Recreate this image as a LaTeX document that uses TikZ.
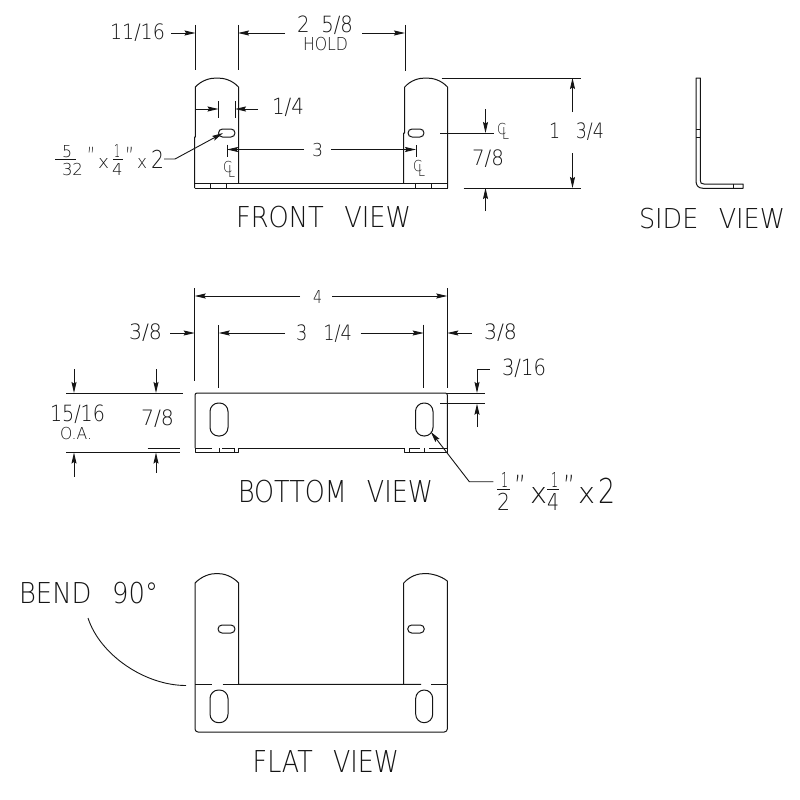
\documentclass[tikz,border=0pt]{standalone}
\usepackage{graphicx}
\usepackage{fontspec}
\newfontfamily\cad{DejaVu Sans ExtraLight}
\usetikzlibrary{arrows.meta}
\definecolor{ink}{HTML}{151515}
\tikzset{
  part/.style={draw=ink,line width=1pt,line join=round},
  thin part/.style={draw=ink,line width=.8pt},
  dim/.style={draw=ink,line width=.9pt},
  arr/.style={draw=ink,line width=.9pt,-{Stealth[length=11pt,width=5pt,inset=1.5pt]}},
  txt/.style={inner sep=0pt,outer sep=0pt,text=ink,anchor=base}
}
\newsavebox{\tbox}
% glyph height (em), depth (em), name, x1,y1,x2,y2, text: fits the glyphs into the box given
\newcommand{\TT}[8]{%
  \pgfmathsetmacro{\sy}{((#7)-(#5))/(20*#1)}%
  \pgfmathsetmacro{\by}{(#7)-(#2*20*\sy)}%
  \pgfmathsetmacro{\cx}{((#4)+(#6))/2}%
  \node[txt] (#3) at (\cx,\by) {\sbox{\tbox}{\cad\fontsize{20}{20}\selectfont #8}%
    \pgfmathsetmacro{\sx}{((#6)-(#4))/\the\wd\tbox}%
    \scalebox{\sx}[\sy]{\usebox{\tbox}}};}
\newcommand{\T}{\TT{.73}{0}}
\newcommand{\TS}{\TT{.85}{.09}}
\newcommand{\TX}{\TT{.547}{0}}
\newcommand{\TQ}{\TT{.24}{-.52}}
\newcommand{\CL}[3]{\T{#1c}{#2}{#3}{#2+9}{#3+11}{C}\T{#1l}{#2+5}{#3+4}{#2+12}{#3+16}{L}}
\newcommand{\Slot}[5]{\draw[part,rounded corners=#5pt] (#1,#2) rectangle (#3,#4);}
\begin{document}
\begin{tikzpicture}[x=1pt,y=-1pt]
\useasboundingbox (0,0) rectangle (800,800);
\fill[white] (0,0) rectangle (800,800);
% ---------- FRONT VIEW
\draw[part] (194.7,188) -- (194.7,137) -- (195.3,137) -- (195.3,87)
  .. controls (202,80) and (210,78) .. (217,78) .. controls (224,78) and (232,80) .. (238.5,87) -- (238.5,183);
\draw[part] (403.7,183) -- (403.7,133) -- (404.7,133) -- (404.7,87)
  .. controls (411,80) and (419,78) .. (426,78) .. controls (433,78) and (441,80) .. (447.5,87) -- (447.5,188);
\draw[part] (194.7,183) -- (447.5,183);
\draw[part] (194.7,188) -- (447.5,188);
\draw[thin part] (210,183) -- (210,188) (226,183) -- (226,188) (415.7,183) -- (415.7,188) (431.7,183) -- (431.7,188);
\Slot{218.5}{129}{235}{137}{4}
\Slot{408}{129}{424}{137}{4}
\draw[dim] (195.5,25) -- (195.5,70) (238,25) -- (238,70) (405,25) -- (405,71);
\draw[arr] (171,33) -- (195.5,33);
\draw[arr] (285,33) -- (238,33);
\draw[arr] (362,33) -- (405,33);
\TS{a1}{110}{23}{165}{41}{11/16}
\TS{a2}{297}{16}{353}{35}{2\hspace{.6em}5/8}
\T{a3}{303}{37}{348}{50}{HOLD}
\draw[dim] (218.5,101) -- (218.5,118) (235,101) -- (235,118);
\draw[arr] (195,109) -- (218.5,109);
\draw[arr] (258,109) -- (235,109);
\TS{a4}{272}{98}{304}{117}{1/4}
\draw[dim] (227,144.5) -- (227,157) (416,145) -- (416,157);
\draw[arr] (304,149.5) -- (227,149.5);
\draw[arr] (331,149.5) -- (416,149.5);
\T{a5}{312}{143}{323}{156}{3}
\CL{cl1}{223}{161}
\CL{cl2}{413}{160}
\CL{cl3}{497}{123}
\draw[dim] (441.7,78) -- (581,78) (463.5,188) -- (581,188);
\draw[arr] (572.5,112) -- (572.5,78);
\draw[arr] (572.5,153) -- (572.5,188);
\TS{a6}{549}{122}{604}{140}{1\hspace{.9em}3/4}
\draw[dim] (440,133) -- (494,133);
\draw[arr] (485.5,109) -- (485.5,133);
\draw[arr] (485.5,211) -- (485.5,188);
\TS{a7}{472}{149}{504}{167}{7/8}
\T{a8}{236}{206}{411}{227}{FRONT\hspace{.8em}VIEW}
% note 5/32
\draw[dim] (55,159) -- (76,159) (113,159) -- (123,159);
\T{n1}{62}{145}{72}{157}{5}
\T{n2}{62}{163}{83}{175}{32}
\TQ{n3}{87}{146}{95}{152}{”}
\TX{n4}{98}{158}{109}{168}{x}
\T{n5}{114}{144}{120}{157}{1}
\T{n6}{112}{163}{122.5}{175}{4}
\TQ{n7}{125}{146}{134}{152}{”}
\TX{n8}{137}{158}{147}{168}{x}
\T{n9}{151}{150}{164}{168}{2}
\draw[arr] (164,159) -- (175,159) -- (223,133);
% ---------- SIDE VIEW
\draw[part] (696,78) -- (700.3,78) -- (700.3,180) .. controls (700.3,183) and (701,184) .. (704,184) -- (743,184) -- (743,188.3) -- (703,188.3) .. controls (698,188.3) and (696,185) .. (696,181) -- cycle;
\draw[thin part] (696,129) -- (700.3,129) (696,137) -- (700.3,137) (733,184) -- (733,188.3);
\T{s1}{639}{208}{785}{228}{SIDE\hspace{.8em}VIEW}
% ---------- BOTTOM VIEW
\draw[part,rounded corners=2pt] (195,448) -- (195,393) -- (447.3,393) -- (447.3,448);
\draw[part] (238.7,448) -- (404,448);
\draw[part] (195,448) -- (212,448) (222,448) -- (234,448) (409,448) -- (420,448) (429,448) -- (447.3,448);
\draw[part] (195,448) -- (195,452.3) -- (238.7,452.3) -- (238.7,448);
\draw[part] (404,448) -- (404,452.3) -- (447.3,452.3) -- (447.3,448);
\draw[thin part] (219,448) -- (219,452.3) (234.3,448) -- (234.3,452.3) (409,448) -- (409,452.3) (424.7,448) -- (424.7,452.3);
\Slot{210}{403}{228}{436}{8.5}
\Slot{415.5}{403}{433}{436}{8.5}
\draw[dim] (194.7,288) -- (194.7,381) (447.3,288) -- (447.3,388) (218.7,325) -- (218.7,388) (423.7,324.5) -- (423.7,388);
\draw[arr] (300,296) -- (194.7,296);
\draw[arr] (332,296) -- (447.3,296);
\T{b1}{313}{290}{322}{303}{4}
\draw[arr] (285,333) -- (218.7,333);
\draw[arr] (360.7,333) -- (423.7,333);
\TS{b2}{296}{324}{352}{342}{3\hspace{.9em}1/4}
\draw[arr] (170,333) -- (194.7,333);
\draw[arr] (471.7,333) -- (447.3,333);
\TS{b3}{129}{323}{162}{341}{3/8}
\TS{b4}{484}{323}{517}{341}{3/8}
\TS{b5}{502}{359}{546}{378}{3/16}
\draw[dim] (66,393) -- (183,393) (447.3,393) -- (485,393) (440,403.7) -- (485,403.7);
\draw[arr] (489.7,369) -- (477,369) -- (477,393);
\draw[arr] (477,427) -- (477,403.7);
\draw[dim] (66,452.5) -- (180,452.5) (147.7,448.3) -- (180,448.3);
\draw[arr] (74,369) -- (74,393);
\draw[arr] (156,369) -- (156,393);
\draw[arr] (74,476.5) -- (74,452.5);
\draw[arr] (156,472.5) -- (156,452.5);
\TS{b6}{50}{405}{105}{424}{15/16}
\T{b7}{60}{427}{92}{439}{O.A.}
\TS{b8}{141}{409}{174}{427}{7/8}
\T{b9}{238}{480}{433}{502}{BOTTOM\hspace{.8em}VIEW}
\draw[dim] (497,489) -- (510,489) (547,489) -- (559,489);
\T{m1}{501}{472}{508}{487}{1}
\T{m2}{497}{493}{510}{510}{2}
\TQ{m3}{514}{474}{526}{481}{”}
\TX{m4}{530}{487}{547}{503}{x}
\T{m5}{551}{472}{558}{487}{1}
\T{m6}{547}{493}{559}{510}{4}
\TQ{m7}{563}{474}{575}{481}{”}
\TX{m8}{578}{487}{595}{503}{x}
\T{m9}{598}{478}{615}{503}{2}
\draw[arr] (493.3,481.7) -- (469.3,481.7) -- (430.7,431.7);
% ---------- FLAT VIEW
\draw[part] (195,684.3) -- (195,583) .. controls (202,576) and (210,573.5) .. (217,573.5) .. controls (224,573.5) and (232,576) .. (238.7,583) -- (238.7,684.3) -- (421,684.3);
\draw[part] (195,684.3) -- (212,684.3) (222.5,684.3) -- (238.7,684.3);
\draw[part] (431,684.3) -- (447.3,684.3);
\draw[part] (403.7,684.3) -- (403.7,583) .. controls (410,576) and (418,573.5) .. (425,573.5) .. controls (432,573.5) and (441,576) .. (447.3,581) -- (447.3,684.3);
\draw[part,rounded corners=3pt] (195,684.3) -- (195,732) -- (447.3,732) -- (447.3,684.3);
\Slot{218}{625}{235}{633}{4}
\Slot{407.7}{625}{424.3}{633}{4}
\Slot{210}{690}{228}{722.7}{8.5}
\Slot{415.7}{690}{432.7}{722.7}{8.5}
\draw[dim] (88,618) .. controls (100,655) and (145,685.5) .. (186,685.5);
\T{f1}{19}{582}{158}{603}{BEND\hspace{.8em}90°}
\T{f2}{252.7}{750}{399}{772}{FLAT\hspace{.8em}VIEW}
\end{tikzpicture}
\end{document}
